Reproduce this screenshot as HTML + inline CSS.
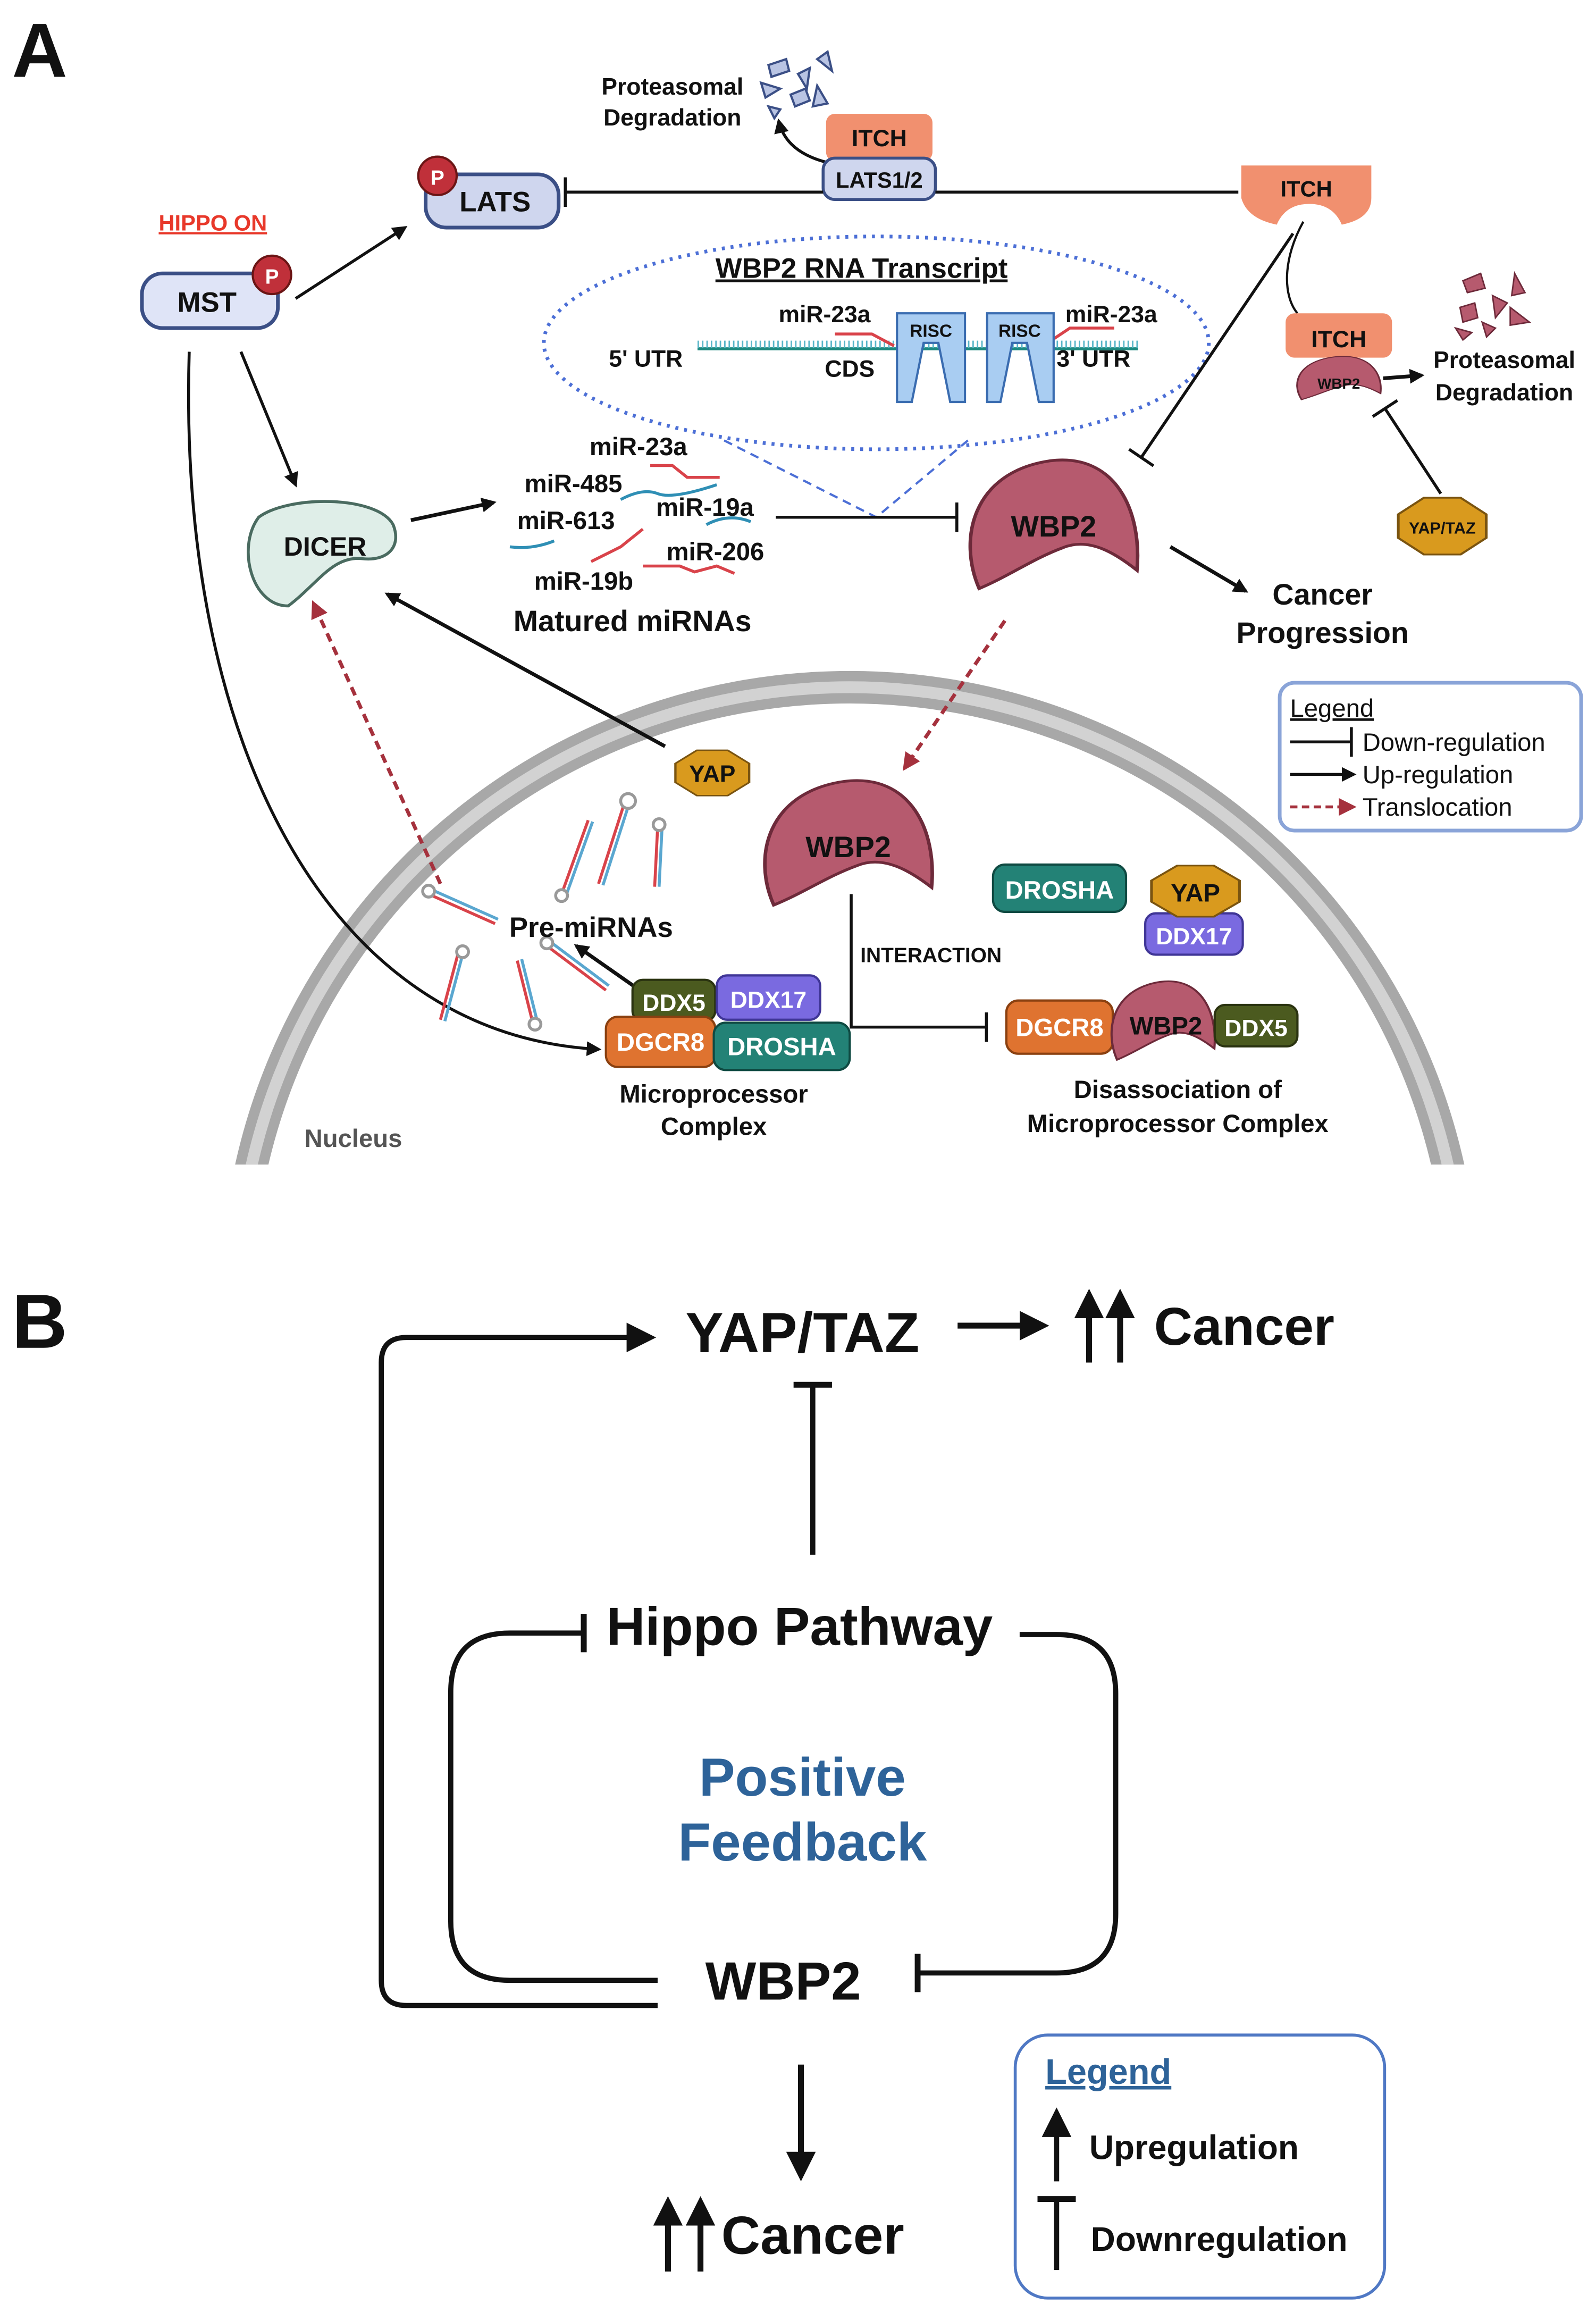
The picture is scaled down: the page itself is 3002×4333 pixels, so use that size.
<!DOCTYPE html>
<html><head><meta charset="utf-8"><style>
html,body{margin:0;padding:0;background:#fff}
svg{display:block}
text{font-family:"Liberation Sans",sans-serif;font-weight:bold;fill:#111}
</style></head><body>
<svg width="3002" height="4333" viewBox="0 0 1080 1559" xmlns="http://www.w3.org/2000/svg">
<defs>
<marker id="ah" markerWidth="10" markerHeight="10" refX="8" refY="5" orient="auto" markerUnits="userSpaceOnUse"><path d="M0,0 L10,5 L0,10 Z" fill="#111"/></marker>
<marker id="ahb" markerWidth="20" markerHeight="20" refX="16" refY="10" orient="auto" markerUnits="userSpaceOnUse"><path d="M0,0 L20,10 L0,20 Z" fill="#111"/></marker>
<marker id="ahr" markerWidth="12" markerHeight="12" refX="10" refY="6" orient="auto" markerUnits="userSpaceOnUse"><path d="M0,0 L12,6 L0,12 Z" fill="#a5313d"/></marker>
<marker id="tb" markerWidth="4" markerHeight="20" refX="2" refY="10" orient="auto" markerUnits="userSpaceOnUse"><rect x="0.5" y="0" width="2" height="20" fill="#111"/></marker>
<marker id="tbb" markerWidth="6" markerHeight="26" refX="3" refY="13" orient="auto" markerUnits="userSpaceOnUse"><rect x="0" y="0" width="4" height="26" fill="#111"/></marker>
<symbol id="blob" viewBox="0 0 100 100" preserveAspectRatio="none"><path d="M8,95 C-4,60 4,12 48,4 C85,-2 100,40 97,82 C85,70 70,58 55,66 C38,74 25,86 8,95 Z" stroke="#6d2a3a" stroke-width="2"/></symbol>
<symbol id="oct" viewBox="0 0 100 100" preserveAspectRatio="none"><polygon points="30,2 70,2 98,30 98,70 70,98 30,98 2,70 2,30" fill="#d99a1e" stroke="#7a5410" stroke-width="3"/></symbol>
</defs>

<text x="8" y="52" font-size="52">A</text>

<clipPath id="nc"><rect x="0" y="0" width="1080" height="788"/></clipPath>
<g clip-path="url(#nc)">
<circle cx="575" cy="880" r="415" fill="none" stroke="#a8a8a8" stroke-width="22"/>
<circle cx="575" cy="880" r="415" fill="none" stroke="#d2d2d2" stroke-width="8"/>
</g>
<text x="206" y="776" font-size="17" style="fill:#555">Nucleus</text>

<text x="455" y="64" font-size="16" text-anchor="middle">Proteasomal</text>
<text x="455" y="85" font-size="16" text-anchor="middle">Degradation</text>
<g fill="#b9c4e3" stroke="#3b4f86" stroke-width="1.5">
<polygon points="520,44 532,40 534,48 522,52"/><polygon points="553,40 560,35 563,48"/><polygon points="540,50 548,46 546,60"/><polygon points="515,56 528,60 518,66"/><polygon points="535,64 545,60 548,68 538,72"/><polygon points="553,58 560,70 550,72"/><polygon points="520,72 528,74 524,80"/>
</g>
<path d="M560,110 C540,105 530,95 527,82" fill="none" stroke="#111" stroke-width="2" marker-end="url(#ah)"/>
<rect x="559" y="77" width="72" height="32" rx="6" fill="#f1906f"/>
<text x="595" y="99" font-size="16" text-anchor="middle">ITCH</text>
<rect x="557" y="107" width="76" height="28" rx="8" fill="#cfd6ee" stroke="#3b4f86" stroke-width="2"/>
<text x="595" y="127" font-size="15" text-anchor="middle">LATS1/2</text>
<line x1="633" y1="130" x2="838" y2="130" stroke="#111" stroke-width="2"/>
<line x1="557" y1="130" x2="382" y2="130" stroke="#111" stroke-width="2" marker-end="url(#tb)"/>

<rect x="288" y="118" width="90" height="36" rx="14" fill="#cfd6ee" stroke="#3b4f86" stroke-width="2.5"/>
<text x="335" y="143" font-size="19" text-anchor="middle">LATS</text>
<circle cx="296" cy="119" r="13" fill="#c0303a" stroke="#6b1515" stroke-width="1.5"/>
<text x="296" y="125" font-size="14" text-anchor="middle" style="fill:#fff">P</text>

<path d="M840,112 h88 v22 q0,14 -20,18 q-6,-14 -22,-14 q-16,0 -22,14 q-20,-4 -24,-18 z" fill="#f1906f"/>
<text x="884" y="133" font-size="15" text-anchor="middle">ITCH</text>

<text x="144" y="156" font-size="15" text-anchor="middle" style="fill:#e8382a" text-decoration="underline">HIPPO ON</text>

<rect x="96" y="185" width="92" height="37" rx="14" fill="#dfe4f7" stroke="#3b4f86" stroke-width="2.5"/>
<text x="140" y="211" font-size="19" text-anchor="middle">MST</text>
<circle cx="184" cy="186" r="13" fill="#c0303a" stroke="#6b1515" stroke-width="1.5"/>
<text x="184" y="192" font-size="14" text-anchor="middle" style="fill:#fff">P</text>
<line x1="200" y1="202" x2="274" y2="154" stroke="#111" stroke-width="2" marker-end="url(#ah)"/>
<line x1="163" y1="238" x2="200" y2="328" stroke="#111" stroke-width="2" marker-end="url(#ah)"/>
<path d="M128,238 C120,500 220,700 405,710" fill="none" stroke="#111" stroke-width="2" marker-end="url(#ah)"/>

<ellipse cx="593" cy="232" rx="225" ry="72" fill="none" stroke="#4c6fd6" stroke-width="2.5" stroke-dasharray="2,4"/>
<text x="583" y="188" font-size="19" text-anchor="middle" text-decoration="underline">WBP2 RNA Transcript</text>
<line x1="472" y1="236" x2="770" y2="236" stroke="#1e8a80" stroke-width="2"/>
<line x1="472" y1="233" x2="770" y2="233" stroke="#58b5c8" stroke-width="5" stroke-dasharray="1,2"/>
<text x="437" y="248" font-size="16" text-anchor="middle">5' UTR</text>
<text x="575" y="255" font-size="16" text-anchor="middle">CDS</text>
<text x="740" y="248" font-size="16" text-anchor="middle">3' UTR</text>
<text x="558" y="218" font-size="16" text-anchor="middle">miR-23a</text>
<text x="752" y="218" font-size="16" text-anchor="middle">miR-23a</text>
<path d="M565,226 h25 l15,8" stroke="#d9434a" stroke-width="2" fill="none"/>
<path d="M712,230 l12,-8 h30" stroke="#d9434a" stroke-width="2" fill="none"/>
<g fill="#a9cdf2" stroke="#3a6cb0" stroke-width="1.5">
<path d="M607,212 h46 v60 h-10 l-8,-40 l-10,0 l-8,40 h-10 z"/>
<path d="M668,212 h45 v60 h-10 l-8,-40 l-10,0 l-8,40 h-9 z"/>
</g>
<text x="630" y="228" font-size="12" text-anchor="middle">RISC</text>
<text x="690" y="228" font-size="12" text-anchor="middle">RISC</text>
<line x1="490" y1="298" x2="593" y2="350" stroke="#4c6fd6" stroke-width="1.5" stroke-dasharray="6,4"/>
<line x1="655" y1="298" x2="593" y2="350" stroke="#4c6fd6" stroke-width="1.5" stroke-dasharray="6,4"/>

<text x="432" y="308" font-size="17" text-anchor="middle">miR-23a</text>
<text x="388" y="333" font-size="17" text-anchor="middle">miR-485</text>
<text x="383" y="358" font-size="17" text-anchor="middle">miR-613</text>
<text x="477" y="349" font-size="17" text-anchor="middle">miR-19a</text>
<text x="484" y="379" font-size="17" text-anchor="middle">miR-206</text>
<text x="395" y="399" font-size="17" text-anchor="middle">miR-19b</text>
<text x="428" y="427" font-size="20" text-anchor="middle">Matured miRNAs</text>
<g fill="none" stroke-width="2">
<path d="M440,315 h15 l10,8 h22" stroke="#d9434a"/>
<path d="M420,338 q15,-8 25,-4 t40,-6" stroke="#2f8fb5"/>
<path d="M478,355 q15,-8 30,-2" stroke="#2f8fb5"/>
<path d="M345,370 q15,2 30,-4" stroke="#2f8fb5"/>
<path d="M400,380 l20,-10 l15,-12" stroke="#d9434a"/>
<path d="M435,383 h25 l10,4 l15,-4 l12,5" stroke="#d9434a"/>
</g>
<line x1="525" y1="350" x2="648" y2="350" stroke="#111" stroke-width="2" marker-end="url(#tb)"/>

<path d="M175,350 C195,335 255,335 266,355 C272,370 262,380 245,378 C225,376 215,395 195,410 C170,410 160,370 175,350 Z" fill="#dfeee8" stroke="#4a6b60" stroke-width="2"/>
<text x="220" y="376" font-size="18" text-anchor="middle">DICER</text>
<line x1="278" y1="352" x2="334" y2="340" stroke="#111" stroke-width="2.5" marker-end="url(#ah)"/>

<use href="#blob" x="653" y="308" width="120" height="95" fill="#b65a6e"/>
<text x="713" y="363" font-size="20" text-anchor="middle">WBP2</text>
<line x1="875" y1="158" x2="772" y2="310" stroke="#111" stroke-width="2" marker-end="url(#tb)"/>
<path d="M882,150 C868,175 868,200 878,212" fill="none" stroke="#111" stroke-width="1.5"/>
<line x1="792" y1="370" x2="843" y2="400" stroke="#111" stroke-width="2.5" marker-end="url(#ah)"/>
<text x="895" y="409" font-size="20" text-anchor="middle">Cancer</text>
<text x="895" y="435" font-size="20" text-anchor="middle">Progression</text>

<rect x="870" y="212" width="72" height="30" rx="6" fill="#f1906f"/>
<text x="906" y="235" font-size="16" text-anchor="middle">ITCH</text>
<use href="#blob" x="876" y="240" width="60" height="32" fill="#b65a6e"/>
<text x="906" y="263" font-size="10" text-anchor="middle">WBP2</text>
<line x1="936" y1="256" x2="962" y2="254" stroke="#111" stroke-width="2.5" marker-end="url(#ah)"/>
<text x="1018" y="249" font-size="16" text-anchor="middle">Proteasomal</text>
<text x="1018" y="271" font-size="16" text-anchor="middle">Degradation</text>
<g fill="#b65a6e" stroke="#6d2a3a" stroke-width="1">
<polygon points="990,190 1002,185 1005,195 993,198"/><polygon points="1025,185 1032,198 1023,200"/><polygon points="1010,200 1020,205 1012,215"/><polygon points="988,208 998,205 1000,215 990,218"/><polygon points="1022,208 1035,218 1022,220"/><polygon points="985,222 996,225 990,230"/><polygon points="1003,218 1012,222 1006,228"/>
</g>
<use href="#oct" x="945" y="336" width="62" height="40"/>
<text x="976" y="361" font-size="11" text-anchor="middle">YAP/TAZ</text>
<line x1="975" y1="334" x2="937" y2="276" stroke="#111" stroke-width="2" marker-end="url(#tb)"/>

<rect x="866" y="462" width="204" height="100" rx="10" fill="#fff" stroke="#8aa4d8" stroke-width="2.5"/>
<text x="873" y="485" font-size="17" style="font-weight:normal" text-decoration="underline">Legend</text>
<line x1="873" y1="502" x2="915" y2="502" stroke="#111" stroke-width="2" marker-end="url(#tb)"/>
<text x="922" y="508" font-size="17" style="font-weight:normal">Down-regulation</text>
<line x1="873" y1="524" x2="916" y2="524" stroke="#111" stroke-width="2" marker-end="url(#ah)"/>
<text x="922" y="530" font-size="17" style="font-weight:normal">Up-regulation</text>
<line x1="873" y1="546" x2="916" y2="546" stroke="#a5313d" stroke-width="2" stroke-dasharray="5,3" marker-end="url(#ahr)"/>
<text x="922" y="552" font-size="17" style="font-weight:normal">Translocation</text>

<line x1="450" y1="505" x2="262" y2="402" stroke="#111" stroke-width="2.5" marker-end="url(#ah)"/>
<use href="#oct" x="456" y="507" width="52" height="32"/>
<text x="482" y="529" font-size="16" text-anchor="middle">YAP</text>
<line x1="298" y1="598" x2="212" y2="408" stroke="#a5313d" stroke-width="2.5" stroke-dasharray="6,4" marker-end="url(#ahr)"/>
<line x1="680" y1="420" x2="612" y2="520" stroke="#a5313d" stroke-width="2.5" stroke-dasharray="6,4" marker-end="url(#ahr)"/>

<use href="#blob" x="514" y="525" width="120" height="92" fill="#b65a6e"/>
<text x="574" y="580" font-size="20" text-anchor="middle">WBP2</text>
<path d="M576,605 V695 H668" fill="none" stroke="#111" stroke-width="2" marker-end="url(#tb)"/>
<text x="630" y="651" font-size="14" text-anchor="middle">INTERACTION</text>

<g fill="none" stroke-width="2">
<path d="M380,605 L398,555" stroke="#d9434a"/><path d="M383,606 L401,556" stroke="#5aa7d0"/><circle cx="380" cy="606" r="4" stroke="#999" fill="#fff"/>
<path d="M405,598 L422,545" stroke="#d9434a"/><path d="M408,599 L425,546" stroke="#5aa7d0"/><circle cx="425" cy="542" r="5" stroke="#999" fill="#fff"/>
<path d="M443,600 L445,560" stroke="#d9434a"/><path d="M446,600 L448,560" stroke="#5aa7d0"/><circle cx="446" cy="558" r="4" stroke="#999" fill="#fff"/>
<path d="M290,605 L335,625" stroke="#d9434a"/><path d="M292,602 L337,622" stroke="#5aa7d0"/><circle cx="290" cy="603" r="4" stroke="#999" fill="#fff"/>
<path d="M310,645 L298,690" stroke="#d9434a"/><path d="M313,646 L301,691" stroke="#5aa7d0"/><circle cx="313" cy="644" r="4" stroke="#999" fill="#fff"/>
<path d="M350,650 L360,690" stroke="#d9434a"/><path d="M353,649 L363,689" stroke="#5aa7d0"/><circle cx="362" cy="693" r="4" stroke="#999" fill="#fff"/>
<path d="M370,640 L410,670" stroke="#d9434a"/><path d="M372,637 L412,667" stroke="#5aa7d0"/><circle cx="370" cy="638" r="4" stroke="#999" fill="#fff"/>
</g>
<text x="400" y="634" font-size="19" text-anchor="middle">Pre-miRNAs</text>
<line x1="430" y1="668" x2="390" y2="640" stroke="#111" stroke-width="2.5" marker-end="url(#ah)"/>

<rect x="428" y="663" width="56" height="28" rx="7" fill="#4b5a1f" stroke="#2a3310" stroke-width="1.5"/>
<text x="456" y="684" font-size="16" text-anchor="middle" style="fill:#fff">DDX5</text>
<rect x="485" y="660" width="70" height="30" rx="7" fill="#7a6ae0" stroke="#3f3596" stroke-width="1.5"/>
<text x="520" y="682" font-size="16" text-anchor="middle" style="fill:#fff">DDX17</text>
<rect x="410" y="688" width="74" height="34" rx="8" fill="#df7330" stroke="#8a4010" stroke-width="1.5"/>
<text x="447" y="711" font-size="17" text-anchor="middle" style="fill:#fff">DGCR8</text>
<rect x="483" y="692" width="92" height="32" rx="8" fill="#238276" stroke="#0f4a42" stroke-width="1.5"/>
<text x="529" y="714" font-size="17" text-anchor="middle" style="fill:#fff">DROSHA</text>
<text x="483" y="746" font-size="17" text-anchor="middle">Microprocessor</text>
<text x="483" y="768" font-size="17" text-anchor="middle">Complex</text>

<rect x="672" y="585" width="90" height="32" rx="8" fill="#238276" stroke="#0f4a42" stroke-width="1.5"/>
<text x="717" y="608" font-size="17" text-anchor="middle" style="fill:#fff">DROSHA</text>
<rect x="775" y="618" width="66" height="28" rx="7" fill="#7a6ae0" stroke="#3f3596" stroke-width="1.5"/>
<text x="808" y="639" font-size="16" text-anchor="middle" style="fill:#fff">DDX17</text>
<use href="#oct" x="778" y="585" width="62" height="36"/>
<text x="809" y="610" font-size="17" text-anchor="middle">YAP</text>
<rect x="681" y="677" width="72" height="36" rx="8" fill="#df7330" stroke="#8a4010" stroke-width="1.5"/>
<text x="717" y="701" font-size="17" text-anchor="middle" style="fill:#fff">DGCR8</text>
<use href="#blob" x="750" y="662" width="74" height="58" fill="#b65a6e"/>
<text x="789" y="700" font-size="17" text-anchor="middle">WBP2</text>
<rect x="822" y="680" width="56" height="28" rx="7" fill="#4b5a1f" stroke="#2a3310" stroke-width="1.5"/>
<text x="850" y="701" font-size="16" text-anchor="middle" style="fill:#fff">DDX5</text>
<text x="797" y="743" font-size="17" text-anchor="middle">Disassociation of</text>
<text x="797" y="766" font-size="17" text-anchor="middle">Microprocessor Complex</text>

<!-- B -->
<text x="8" y="912" font-size="52">B</text>
<text x="543" y="915" font-size="38.5" text-anchor="middle">YAP/TAZ</text>
<line x1="648" y1="897" x2="706" y2="897" stroke="#111" stroke-width="4" marker-end="url(#ahb)"/>
<line x1="737" y1="922" x2="737" y2="876" stroke="#111" stroke-width="4" marker-end="url(#ahb)"/>
<line x1="758" y1="922" x2="758" y2="876" stroke="#111" stroke-width="4" marker-end="url(#ahb)"/>
<text x="842" y="910" font-size="36" text-anchor="middle">Cancer</text>
<path d="M445,1357 H275 Q258,1357 258,1340 V922 Q258,905 275,905 H440" fill="none" stroke="#111" stroke-width="3.5" marker-end="url(#ahb)"/>
<line x1="550" y1="1052" x2="550" y2="936" stroke="#111" stroke-width="3.5" marker-end="url(#tbb)"/>
<text x="541" y="1113" font-size="36.5" text-anchor="middle">Hippo Pathway</text>
<path d="M445,1340 H345 Q305,1340 305,1300 V1145 Q305,1105 345,1105 H396" fill="none" stroke="#111" stroke-width="3.5" marker-end="url(#tbb)"/>
<path d="M690,1106 H715 Q755,1106 755,1146 V1295 Q755,1335 715,1335 H620" fill="none" stroke="#111" stroke-width="3.5" marker-end="url(#tbb)"/>
<text x="543" y="1215" font-size="36.5" text-anchor="middle" style="fill:#2e6399">Positive</text>
<text x="543" y="1259" font-size="36.5" text-anchor="middle" style="fill:#2e6399">Feedback</text>
<text x="530" y="1353" font-size="36.5" text-anchor="middle">WBP2</text>
<line x1="542" y1="1397" x2="542" y2="1472" stroke="#111" stroke-width="4" marker-end="url(#ahb)"/>
<line x1="452" y1="1537" x2="452" y2="1490" stroke="#111" stroke-width="4" marker-end="url(#ahb)"/>
<line x1="474" y1="1537" x2="474" y2="1490" stroke="#111" stroke-width="4" marker-end="url(#ahb)"/>
<text x="550" y="1525" font-size="36.5" text-anchor="middle">Cancer</text>

<rect x="687" y="1377" width="250" height="178" rx="22" fill="#fff" stroke="#4f78c4" stroke-width="2"/>
<text x="750" y="1410" font-size="24" text-anchor="middle" text-decoration="underline" style="fill:#2e6399">Legend</text>
<line x1="715" y1="1476" x2="715" y2="1430" stroke="#111" stroke-width="3.5" marker-end="url(#ahb)"/>
<text x="808" y="1461" font-size="23" text-anchor="middle">Upregulation</text>
<line x1="715" y1="1536" x2="715" y2="1487" stroke="#111" stroke-width="3.5" marker-end="url(#tbb)"/>
<text x="825" y="1523" font-size="23" text-anchor="middle">Downregulation</text>
</svg>
</body></html>
